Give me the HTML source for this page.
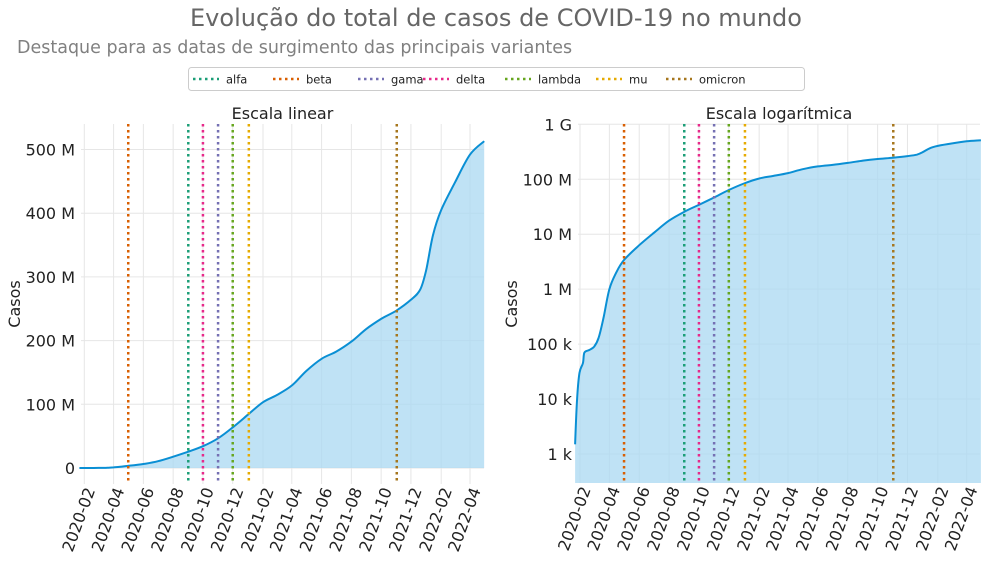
<!DOCTYPE html>
<html><head><meta charset="utf-8"><style>
body{margin:0;background:#fff;}
svg{display:block;font-family:"DejaVu Sans","Liberation Sans",sans-serif;}
</style></head><body>
<svg id="c" width="991" height="563" viewBox="0 0 991 563">
<text x="496" y="26" text-anchor="middle" font-size="24" fill="#666">Evolução do total de casos de COVID-19 no mundo</text>
<text x="17" y="53" font-size="17.5" fill="#808080">Destaque para as datas de surgimento das principais variantes</text>
<g id="legend"><rect x="188.5" y="67.5" width="616" height="23" rx="3" fill="#fff" stroke="#ccc"/></g>
<g id="p1"></g>
<g id="p2"></g>
</svg>
<script>
const NS="http://www.w3.org/2000/svg";
const dates=["2020-01-22","2020-01-26","2020-01-31","2020-02-07","2020-02-10","2020-02-20","2020-03-01","2020-03-10","2020-03-20","2020-04-01","2020-04-15","2020-05-01","2020-06-01","2020-07-01","2020-08-01","2020-09-01","2020-10-01","2020-11-01","2020-12-01","2021-01-01","2021-02-01","2021-03-01","2021-04-01","2021-05-01","2021-06-01","2021-07-01","2021-08-01","2021-09-01","2021-10-01","2021-11-01","2021-12-01","2021-12-20","2022-01-01","2022-01-15","2022-02-01","2022-03-01","2022-04-01","2022-04-30"];
const cases=[0.0015,0.01,0.03,0.045,0.07,0.078,0.09,0.13,0.3,1.0,2.0,3.4,6.3,10.6,17.7,25.6,34.2,46.6,63.7,83.6,103.3,114.4,129.5,152.5,171.5,182.7,198.5,218.5,234,247,264,280,310,365,405,448,492,513];
const variantNames=["alfa","beta","gama","delta","lambda","mu","omicron"];
const variantDates=["2020-09-01","2020-05-01","2020-11-01","2020-10-01","2020-12-01","2021-01-03","2021-11-02"];
const variantColors=["#1b9e77","#d95f02","#7570b3","#e7298a","#66a61e","#e6ab02","#a6761d"];
const xTicks=["2020-02","2020-04","2020-06","2020-08","2020-10","2020-12","2021-02","2021-04","2021-06","2021-08","2021-10","2021-12","2022-02","2022-04"];
const linTicks=[0,100,200,300,400,500];
const linLabels=["0","100 M","200 M","300 M","400 M","500 M"];
const logTicks=[1e3,1e4,1e5,1e6,1e7,1e8,1e9];
const logLabels=["1 k","10 k","100 k","1 M","10 M","100 M","1 G"];

const day=s=>Date.parse(s.length==7?s+"-01":s)/864e5;
const d0=day("2020-02-01"),d1=day("2022-04-01");
function mk(tag,attrs,parent,txt){const e=document.createElementNS(NS,tag);for(const k in attrs)e.setAttribute(k,attrs[k]);if(txt!==undefined)e.textContent=txt;parent.appendChild(e);return e;}
function smooth(p){let d=`M${p[0][0].toFixed(1)},${p[0][1].toFixed(1)}`;
  for(let i=0;i<p.length-1;i++){const a=p[Math.max(0,i-1)],b=p[i],c=p[i+1],e=p[Math.min(p.length-1,i+2)];
    const c1=[b[0]+(c[0]-a[0])/6,b[1]+(c[1]-a[1])/6],c2=[c[0]-(e[0]-b[0])/6,c[1]-(e[1]-b[1])/6];
    d+=`C${c1[0].toFixed(1)},${c1[1].toFixed(1)} ${c2[0].toFixed(1)},${c2[1].toFixed(1)} ${c[0].toFixed(1)},${c[1].toFixed(1)}`;}
  return d;}

const lg=document.getElementById('legend');
const lgX=[193,273,358,423,505,596,666];
variantNames.forEach((n,i)=>{
  const l=mk('line',{x1:lgX[i],x2:lgX[i]+26,y1:79,y2:79,stroke:variantColors[i],'stroke-width':2.5,'stroke-dasharray':'2.5 3.5'},lg);
  
  
  const t=mk('text',{x:lgX[i]+33,y:83.5,'font-size':11.5,fill:'#222'},lg,n);
  
  
});

function panel(g,cfg){
  const X=d=>cfg.xa+(day(d)-d0)*(cfg.xb-cfg.xa)/(d1-d0);
  const Y=cfg.Y;
  xTicks.forEach(t=>{const l=mk('line',{x1:X(t),x2:X(t),y1:cfg.top,y2:cfg.bot,stroke:'#e6e6e6','stroke-width':1},g);
    });
  cfg.yt.forEach((v,i)=>{const y=Y(v);const l=mk('line',{x1:cfg.left,x2:cfg.right,y1:y,y2:y,stroke:'#e6e6e6','stroke-width':1},g);
    
    const t=mk('text',{x:cfg.left-6,y:y+6,'text-anchor':'end','font-size':16,fill:'#222'},g,cfg.yl[i]);
    });
  let pts=dates.map((d,i)=>[X(d),Y(cfg.log?cases[i]*1e6:cases[i])]);
  let line=smooth(pts);
  const area=mk('path',{d:line+`L${pts[pts.length-1][0]},${cfg.base}L${pts[0][0]},${cfg.base}Z`,fill:'#a9d8f1','fill-opacity':0.75},g);
  
  const ln=mk('path',{d:line,fill:'none',stroke:'#0a8fd4','stroke-width':2,'stroke-linejoin':'round'},g);
  
  variantDates.forEach((d,i)=>{const l=mk('line',{x1:X(d),x2:X(d),y1:cfg.top,y2:cfg.bot,stroke:variantColors[i],'stroke-width':2.5,'stroke-dasharray':'2.5 3.5'},g);
    });
  xTicks.forEach(t=>{const x=X(t)+11,y=cfg.bot+6;
    const e=mk('text',{x:x,y:y,'text-anchor':'end','font-size':16,fill:'#222',transform:`rotate(-70 ${x} ${y})`},g,t);
    });
  const tt=mk('text',{x:(cfg.left+cfg.right)/2,y:119,'text-anchor':'middle','font-size':16,fill:'#222'},g,cfg.title);
  
  const yl=mk('text',{x:cfg.yx,y:304,'text-anchor':'middle','font-size':16,fill:'#222',transform:`rotate(-90 ${cfg.yx} 304)`},g,'Casos');
  
}
panel(document.getElementById('p1'),{xa:84.3,xb:470,left:81,right:484,top:124,bot:484,base:468,
  Y:v=>468-v*0.637,yt:linTicks,yl:linLabels,title:'Escala linear',yx:20,log:false});
panel(document.getElementById('p2'),{xa:580,xb:966.7,left:578,right:980,top:124,bot:483,base:483,
  Y:v=>454-(Math.log10(v)-3)*54.95,yt:logTicks,yl:logLabels,title:'Escala logarítmica',yx:517,log:true});
</script>
</body></html>
